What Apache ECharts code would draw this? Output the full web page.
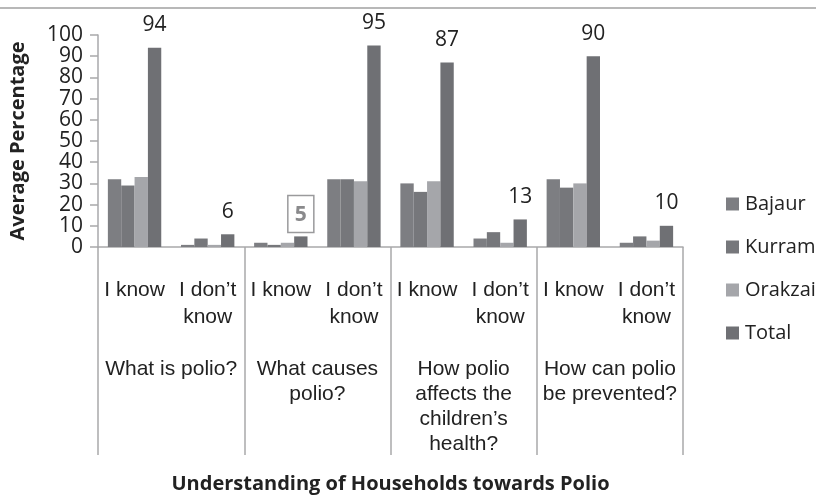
<!DOCTYPE html>
<html>
<head>
<meta charset="utf-8">
<script src="https://cdn.jsdelivr.net/npm/echarts@6/dist/echarts.min.js"></script>
<style>
  html, body { margin: 0; padding: 0; background: #fff; }
  #chart { width: 816px; height: 495px; }
</style>
</head>
<body>
<div id="chart"></div>
<script>
const answers = ['I know', 'I don\u2019t\nknow', 'I know', 'I don\u2019t\nknow', 'I know', 'I don\u2019t\nknow', 'I know', 'I don\u2019t\nknow']
const questions = ['What is polio?', 'What causes\npolio?', 'How polio\naffects the\nchildren\u2019s\nhealth?', 'How can polio\nbe prevented?']
const seriesNames = ['Bajaur', 'Kurram', 'Orakzai', 'Total']
const bajaur = [32, 1, 2, 32, 30, 4, 32, 2]
const kurram = [29, 4, 1, 32, 26, 7, 28, 5]
const orakzai = [33, 1, 2, 31, 31, 2, 30, 3]
const total = [94, 6, 5, 95, 87, 13, 90, 10]
const yTicks = { min: 0, max: 100, interval: 10 }
const boxedIndex = 2

const colors = ['#7d7e82', '#76777b', '#a5a6aa', '#6f7074']
const axisGray = '#a9a9ab'
const textColor = '#222'

const chart = echarts.init(document.getElementById('chart'), null, { renderer: 'canvas' })

function barSeries(name, values, color, extra) {
    return Object.assign({
        name: name,
        type: 'bar',
        xAxisIndex: 0,
        data: values,
        barGap: '0%',
        barCategoryGap: '27%',
        itemStyle: { color: color },
        emphasis: { disabled: true }
    }, extra || {})
}

// the "5" label is drawn boxed and grey in the source figure
const totalData = total.map((v, i) => {
    if (i !== boxedIndex) return v
    return {
        value: v,
        label: {
            color: '#8a8a8c',
            fontWeight: 'bold',
            borderColor: '#9a9a9c',
            borderWidth: 1.5,
            padding: [9, 7, 7, 7],
            distance: 4
        }
    }
})

chart.setOption({
    animation: false,
    textStyle: { fontFamily: 'Open Sans' },
    graphic: [{
        type: 'line',
        shape: { x1: 0, y1: 8, x2: 816, y2: 8 },
        style: { stroke: '#b8b8b8', lineWidth: 2 }
    }],
    legend: {
        orient: 'vertical',
        left: 721,
        top: 189,
        icon: 'rect',
        itemWidth: 13,
        itemHeight: 13,
        itemGap: 23,
        data: seriesNames,
        textStyle: { fontSize: 20, color: textColor, fontFamily: 'Open Sans', padding: [0, 0, 0, 1] }
    },
    grid: { left: 98, right: 133, top: 35, bottom: 240 },
    xAxis: [
        {
            type: 'category',
            data: answers,
            axisLine: { show: true, lineStyle: { color: axisGray, width: 1.5 } },
            axisTick: { show: false },
            axisLabel: {
                interval: 0,
                margin: 30,
                fontSize: 21,
                lineHeight: 27,
                color: textColor,
                fontFamily: 'Liberation Sans',
                verticalAlign: 'top'
            }
        },
        {
            type: 'category',
            data: questions,
            position: 'bottom',
            axisLine: { show: false },
            axisTick: { show: true, interval: 0, length: 208, lineStyle: { color: axisGray, width: 1.5 } },
            axisLabel: {
                interval: 0,
                margin: 110,
                fontSize: 21,
                lineHeight: 25,
                color: textColor,
                fontFamily: 'Liberation Sans',
                verticalAlign: 'top'
            },
            name: 'Understanding of Households towards Polio',
            nameLocation: 'middle',
            nameGap: 227,
            nameTextStyle: { fontSize: 20, fontWeight: 'bold', color: textColor, fontFamily: 'Open Sans' }
        }
    ],
    yAxis: {
        type: 'value',
        min: yTicks.min,
        max: yTicks.max,
        interval: yTicks.interval,
        axisLine: { show: true, lineStyle: { color: axisGray, width: 1.5 } },
        axisTick: { show: true, length: 8, lineStyle: { color: axisGray, width: 1.5 } },
        splitLine: { show: false },
        axisLabel: { fontSize: 21, color: textColor, margin: 15, fontFamily: 'Open Sans' },
        name: 'Average Percentage',
        nameLocation: 'middle',
        nameGap: 70,
        nameTextStyle: { fontSize: 20, fontWeight: 'bold', color: textColor, fontFamily: 'Open Sans' }
    },
    series: [
        barSeries('Bajaur', bajaur, colors[0]),
        barSeries('Kurram', kurram, colors[1]),
        barSeries('Orakzai', orakzai, colors[2]),
        barSeries('Total', totalData, colors[3], {
            label: {
                show: true,
                position: 'top',
                distance: 12,
                fontSize: 21,
                color: textColor,
                fontFamily: 'Open Sans'
            }
        })
    ]
})
</script>
</body>
</html>
